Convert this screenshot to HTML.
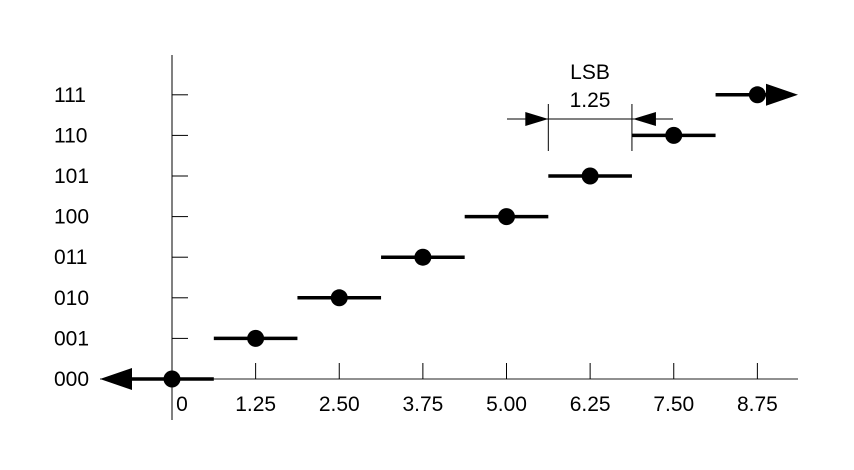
<!DOCTYPE html>
<html><head><meta charset="utf-8"><style>
body{margin:0;background:#fff}
svg{display:block;font-family:"Liberation Sans",sans-serif}
</style></head><body>
<svg id="c" width="854" height="470"></svg>
<script>
const codes=["000","001","010","011","100","101","110","111"];
const xTicks=["0","1.25","2.50","3.75","5.00","6.25","7.50","8.75"];
const xVals=[0,1.25,2.5,3.75,5,6.25,7.5,8.75];
const pointX=[0,1.25,2.5,3.75,5,6.25,7.5,8.75];
const pointCode=[0,1,2,3,4,5,6,7];
const lsb=1.25;
const svg=document.getElementById('c');
const NS='http://www.w3.org/2000/svg';
const x0=172,xs=66.9,y0=379,ys=40.6;
const X=v=>x0+v*xs, Y=k=>y0-k*ys;
function mk(t,a,name){const e=document.createElementNS(NS,t);for(const k in a)e.setAttribute(k,a[k]);


svg.appendChild(e);return e;}
mk('line',{x1:x0,y1:55,x2:x0,y2:420,stroke:'#000','stroke-width':1},'y-axis');
mk('line',{x1:100,y1:y0,x2:798,y2:y0,stroke:'#222','stroke-width':1},'x-axis');
xVals.forEach((v,i)=>{
  if(i>0)mk('line',{x1:X(v),y1:y0-16,x2:X(v),y2:y0,stroke:'#000'},'x-tick');
  const t=mk('text',{x:X(v)+(i==0?10:0),y:411,'text-anchor':'middle','font-size':21},'x-tick-label');t.textContent=xTicks[i];
});
codes.forEach((c,i)=>{
  if(i>0)mk('line',{x1:x0,y1:Y(i),x2:x0+16,y2:Y(i),stroke:'#000'},'y-tick');
  const t=mk('text',{x:54,y:Y(i)+7,'font-size':21},'y-tick-label');t.textContent=c;
});
pointX.forEach((v,i)=>{
  const k=pointCode[i];
  let a=X(v-lsb/2),b=X(v+lsb/2);
  if(i==0)a=120; if(i==pointX.length-1)b=775;
  mk('line',{x1:a,y1:Y(k),x2:b,y2:Y(k),stroke:'#000','stroke-width':3.5},'step-segment');
  mk('circle',{cx:X(v),cy:Y(k),r:8.5,fill:'#000'},'code-point');
});
mk('polygon',{points:`100,${Y(0)} 132,${Y(0)-11} 132,${Y(0)+11}`,fill:'#000'},'left-arrowhead');
mk('polygon',{points:`798,${Y(7)} 766,${Y(7)-11} 766,${Y(7)+11}`,fill:'#000'},'right-arrowhead');
const da=X(5.625),db=X(6.875),dy=119;
mk('line',{x1:da,y1:104,x2:da,y2:151,stroke:'#000'},'lsb-left-ext');
mk('line',{x1:db,y1:104,x2:db,y2:151,stroke:'#000'},'lsb-right-ext');
mk('line',{x1:507,y1:dy,x2:673,y2:dy,stroke:'#000'},'lsb-dimension-line');
mk('polygon',{points:`${da},${dy} ${da-23},${dy-7} ${da-23},${dy+7}`,fill:'#000'},'lsb-arrow-left');
mk('polygon',{points:`${db+1},${dy} ${db+24},${dy-7} ${db+24},${dy+7}`,fill:'#000'},'lsb-arrow-right');
let t=mk('text',{x:590,y:79,'text-anchor':'middle','font-size':21},'lsb-label');t.textContent='LSB';
t=mk('text',{x:590,y:107,'text-anchor':'middle','font-size':21},'lsb-value');t.textContent=String(lsb);
</script>
</body></html>
